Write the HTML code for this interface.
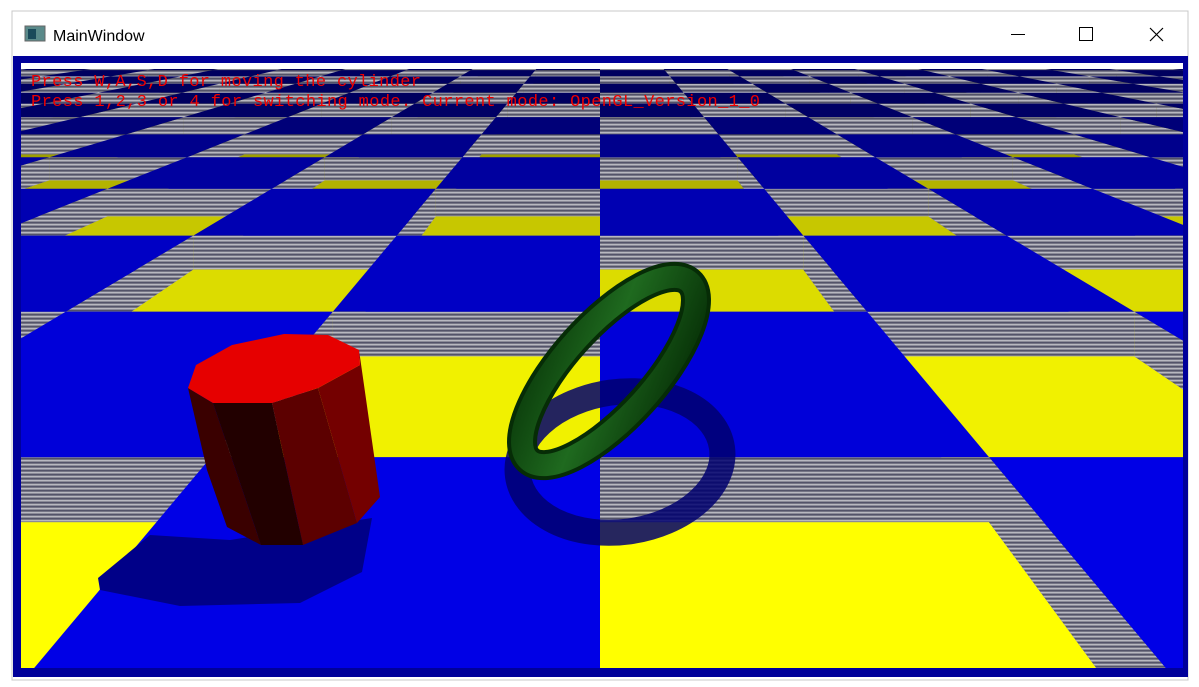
<!DOCTYPE html>
<html><head><meta charset="utf-8"><style>
html,body{margin:0;padding:0;background:#fff;width:1199px;height:687px;overflow:hidden}
svg{display:block;position:absolute;left:0;top:0}
</style></head><body>
<svg id="s" width="1199" height="687" viewBox="0 0 1199 687" xmlns="http://www.w3.org/2000/svg">
<defs>
<pattern id="stripes" width="6" height="4" patternUnits="userSpaceOnUse">
<rect width="6" height="4" fill="#80808e"/><rect width="6" height="1.2" fill="#b8b8c0"/><rect y="2.2" width="6" height="1" fill="#484860"/>
</pattern>
<clipPath id="vp"><rect x="21" y="63" width="1162" height="605"/></clipPath>
<linearGradient id="tg" x1="0" y1="0" x2="1" y2="1">
<stop offset="0" stop-color="#0a3a0a"/><stop offset="0.45" stop-color="#1f6a1f"/><stop offset="1" stop-color="#062e06"/>
</linearGradient>
</defs>
<rect x="12" y="11" width="1176" height="669" fill="#fff" stroke="#c8c8c8"/>
<g>
<rect x="25" y="26" width="20" height="15" fill="#5a8a8a" stroke="#666"/>
<rect x="28" y="29" width="8" height="10" fill="#1a4a5a"/>
<text x="53" y="41" font-family="Liberation Sans, sans-serif" font-size="16" fill="#000">MainWindow</text>
<line x1="1011" y1="34.5" x2="1025" y2="34.5" stroke="#000"/>
<rect x="1079.5" y="27.5" width="13" height="13" fill="none" stroke="#000"/>
<path d="M1150 28 L1163 41 M1163 28 L1150 41" stroke="#000" stroke-width="1.2"/>
</g>
<rect x="13" y="56" width="1175" height="621" fill="#00009a"/>
<g clip-path="url(#vp)">
<rect x="21" y="63" width="1162" height="605" fill="#fff"/>
<g id="floor"></g>
<rect x="21" y="63" width="1162" height="6" fill="#fff"/>
<polygon points="98,578 150,535 230,540 372,518 362,572 300,603 180,606 100,590" fill="#000088"/>
<ellipse cx="620" cy="462" rx="103" ry="70" transform="rotate(-8 620 462)" fill="none" stroke="#00006e" stroke-width="26" opacity="0.85"/>
<g>
<polygon points="188,388 213,403 261,545 227,527 207,470" fill="#3a0000"/>
<polygon points="213,403 272,403 303,545 261,545" fill="#220000"/>
<polygon points="272,403 318,388 357,523 303,545" fill="#5c0000"/>
<polygon points="318,388 360,365 359,350 380,497 357,523" fill="#740000"/>
<polygon points="188,388 196,365 232,345 284,334 328,335 359,350 360,365 318,388 272,403 213,403" fill="#e60000"/>
</g>
<g>
<ellipse cx="609" cy="371" rx="120" ry="45" transform="rotate(-48 609 371)" fill="none" stroke="#062c06" stroke-width="30"/>
<ellipse cx="609" cy="371" rx="120" ry="45" transform="rotate(-48 609 371)" fill="none" stroke="url(#tg)" stroke-width="22"/>
</g>
<text x="31" y="86" font-family="Liberation Mono, monospace" font-size="17" fill="#ee0000" textLength="390">Press W,A,S,D for moving the cylinder</text>
<text x="31" y="106" font-family="Liberation Mono, monospace" font-size="17" fill="#ee0000" textLength="729">Press 1,2,3 or 4 for switching mode. Current mode: OpenGL_Version_1_0</text>
</g>
</svg>
<script>
const rowStarts = [0.19,1.19,2.19,3.19,4.19,5.19,6.19,7.19,8.19,9.19,10.19,11.19,12.19,13.19,14.19,15.19,16.19,17.19,18.19,19.19,20.19,21.19,22.19,23.19];
const columns = [-20,-19,-18,-17,-16,-15,-14,-13,-12,-11,-10,-9,-8,-7,-6,-5,-4,-3,-2,-1,0,1,2,3,4,5,6,7,8,9,10,11,12,13,14,15,16,17,18,19];
const cx=600, hy=-7, f=852, camH=1.36, boxH=0.167;
const NS='http://www.w3.org/2000/svg';
const g=document.getElementById('floor');
function px(X,Z){return cx+f*X/Z;}
function py(Y,Z){return hy+f*(camH-Y)/Z;}
function poly(pts,fill){const p=document.createElementNS(NS,'polygon');p.setAttribute('points',pts.map(a=>a[0].toFixed(1)+','+a[1].toFixed(1)).join(' '));p.setAttribute('fill',fill);g.appendChild(p);return p;}
function shade(Z,near,far){const t=Math.min(1,Math.max(0,(Z-1.5)/7));return near.map((c,i)=>Math.round(c+(far[i]-c)*t));}
const isBlue=(c,ri)=>((c+ri)%2+2)%2===0;
for(let ri=rowStarts.length-1;ri>=0;ri--){
  const z0=rowStarts[ri], z1=z0+1;
  for(const c of columns){
    const blue=isBlue(c,ri);
    const col=blue?shade(z0,[0,0,225],[0,0,90]):shade(z0,[255,255,0],[110,110,0]);
    const p=poly([[px(c,z1),py(0,z1)],[px(c+1,z1),py(0,z1)],[px(c+1,z0),py(0,z0)],[px(c,z0),py(0,z0)]],'rgb('+col+')');
    
    
  }
}
for(let ri=rowStarts.length-1;ri>=0;ri--){
  const z0=rowStarts[ri], z1=z0+1;
  const order=columns.slice().sort((a,b)=>Math.abs(b+0.5)-Math.abs(a+0.5));
  for(const c of order){
    if(!isBlue(c,ri)) continue;
    const x0=c,x1=c+1;
    if(x1<=0){poly([[px(x1,z1),py(boxH,z1)],[px(x1,z0),py(boxH,z0)],[px(x1,z0),py(0,z0)],[px(x1,z1),py(0,z1)]],'url(#stripes)');}
    if(x0>=0){poly([[px(x0,z1),py(boxH,z1)],[px(x0,z0),py(boxH,z0)],[px(x0,z0),py(0,z0)],[px(x0,z1),py(0,z1)]],'url(#stripes)');}
    const fr=poly([[px(x0,z0),py(boxH,z0)],[px(x1,z0),py(boxH,z0)],[px(x1,z0),py(0,z0)],[px(x0,z0),py(0,z0)]],'url(#stripes)');
    
    
    const col=shade(z0,[0,0,230],[0,0,95]);
    const p=poly([[px(x0,z1),py(boxH,z1)],[px(x1,z1),py(boxH,z1)],[px(x1,z0),py(boxH,z0)],[px(x0,z0),py(boxH,z0)]],'rgb('+col+')');
    
    
  }
}
</script>
</body></html>
